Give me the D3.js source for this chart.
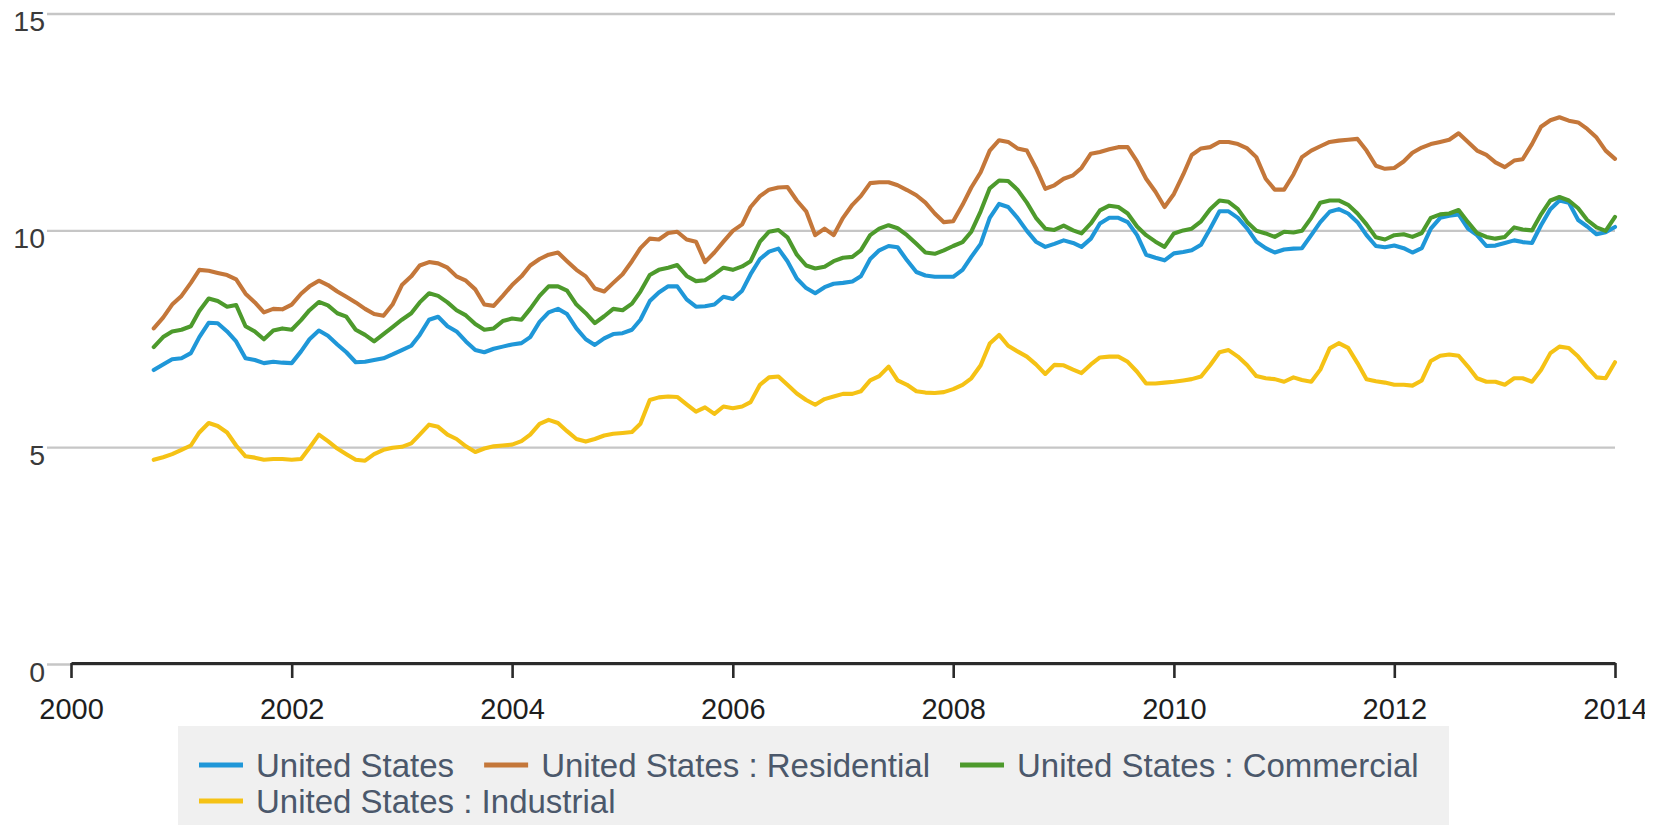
<!DOCTYPE html>
<html><head><meta charset="utf-8">
<script src="https://cdn.jsdelivr.net/npm/d3@7"></script>
<style>
html,body{margin:0;padding:0;background:#fff;overflow:hidden}
svg{display:block}
text{font-family:"Liberation Sans",Arial,Helvetica,sans-serif}
</style></head><body>
<svg id="chart" width="1658" height="825"></svg>
<script>
// ---- data (monthly average retail price of electricity, cents/kWh) ----
const firstMonth = new Date(2000, 9, 1);   // Oct 2000
const lastMonth = new Date(2014, 0, 1);    // Jan 2014
const seriesNames = ["United States", "United States : Residential", "United States : Commercial", "United States : Industrial"];
const seriesColors = ["#1f97d8", "#c4773a", "#4d9a2c", "#f5c215"];
const xTickYears = [2000, 2002, 2004, 2006, 2008, 2010, 2012, 2014];
const yTickValues = [0, 5, 10, 15];

const usTotal = [
 6.79,6.92,7.04,7.06,7.18,7.55,7.88,7.87,7.68,7.45,
 7.06,7.02,6.95,6.98,6.96,6.95,7.22,7.5,7.7,7.58,
 7.38,7.2,6.97,6.98,7.02,7.06,7.15,7.25,7.35,7.6,
 7.95,8.02,7.8,7.68,7.45,7.25,7.2,7.28,7.33,7.38,
 7.41,7.55,7.9,8.12,8.2,8.08,7.75,7.5,7.37,7.52,
 7.62,7.64,7.72,7.95,8.38,8.58,8.72,8.72,8.42,8.25,
 8.26,8.3,8.48,8.43,8.62,9.0,9.35,9.52,9.59,9.3,
 8.9,8.68,8.56,8.7,8.78,8.8,8.83,8.95,9.35,9.55,
 9.65,9.62,9.32,9.05,8.97,8.94,8.94,8.94,9.1,9.4,
 9.7,10.3,10.62,10.55,10.3,10.0,9.75,9.63,9.7,9.78,
 9.72,9.63,9.82,10.17,10.3,10.3,10.2,9.9,9.45,9.38,
 9.32,9.48,9.51,9.55,9.68,10.05,10.45,10.45,10.3,10.05,
 9.75,9.6,9.5,9.57,9.59,9.6,9.9,10.2,10.44,10.5,
 10.4,10.2,9.9,9.65,9.62,9.66,9.6,9.5,9.6,10.05,
 10.3,10.35,10.38,10.05,9.9,9.65,9.66,9.72,9.78,9.74,
 9.72,10.13,10.5,10.7,10.65,10.25,10.1,9.92,9.97,10.09
];
const residential = [
 7.75,8.0,8.3,8.5,8.8,9.1,9.08,9.03,8.98,8.88,
 8.55,8.35,8.12,8.2,8.19,8.3,8.55,8.72,8.85,8.75,
 8.6,8.48,8.35,8.2,8.08,8.04,8.3,8.75,8.95,9.2,
 9.28,9.25,9.15,8.95,8.85,8.65,8.3,8.27,8.5,8.75,
 8.95,9.2,9.35,9.45,9.5,9.3,9.1,8.95,8.67,8.6,
 8.8,9.0,9.3,9.6,9.82,9.8,9.95,9.98,9.8,9.75,
 9.28,9.5,9.75,10.0,10.15,10.55,10.8,10.95,11.0,11.01,
 10.7,10.45,9.9,10.05,9.9,10.3,10.6,10.8,11.1,11.12,
 11.12,11.05,10.94,10.82,10.65,10.4,10.2,10.22,10.6,11.0,
 11.35,11.85,12.09,12.05,11.9,11.85,11.45,10.97,11.05,11.2,
 11.28,11.45,11.78,11.82,11.88,11.93,11.93,11.6,11.2,10.9,
 10.55,10.85,11.3,11.75,11.9,11.93,12.05,12.05,12.0,11.9,
 11.7,11.2,10.95,10.95,11.3,11.7,11.85,11.95,12.05,12.08,
 12.1,12.12,11.85,11.5,11.43,11.45,11.6,11.8,11.92,12.0,
 12.05,12.1,12.25,12.05,11.85,11.75,11.58,11.47,11.62,11.65,
 12.0,12.4,12.55,12.62,12.54,12.5,12.35,12.15,11.85,11.66
];
const commercial = [
 7.32,7.55,7.68,7.72,7.8,8.15,8.44,8.38,8.25,8.29,
 7.8,7.68,7.5,7.7,7.75,7.72,7.94,8.17,8.36,8.28,
 8.1,8.02,7.72,7.6,7.45,7.62,7.78,7.95,8.1,8.35,
 8.56,8.5,8.35,8.17,8.05,7.85,7.72,7.75,7.92,7.98,
 7.95,8.2,8.5,8.72,8.72,8.62,8.3,8.1,7.87,8.03,
 8.2,8.17,8.32,8.6,8.98,9.1,9.15,9.21,8.96,8.84,
 8.86,9.0,9.15,9.1,9.18,9.3,9.75,9.98,10.02,9.85,
 9.45,9.2,9.13,9.17,9.3,9.38,9.4,9.55,9.9,10.05,
 10.13,10.06,9.9,9.7,9.5,9.47,9.55,9.65,9.74,9.98,
 10.45,10.98,11.16,11.15,10.95,10.65,10.3,10.05,10.02,10.12,
 10.01,9.94,10.17,10.47,10.58,10.55,10.4,10.1,9.9,9.75,
 9.63,9.94,10.01,10.05,10.22,10.5,10.7,10.67,10.5,10.2,
 10.0,9.94,9.86,9.98,9.96,10.0,10.3,10.65,10.7,10.7,
 10.6,10.4,10.15,9.85,9.8,9.9,9.92,9.86,9.95,10.3,
 10.38,10.4,10.48,10.2,9.95,9.86,9.82,9.86,10.08,10.03,
 10.01,10.38,10.7,10.78,10.7,10.52,10.25,10.08,10.0,10.32
];
const industrial = [
 4.72,4.78,4.85,4.95,5.05,5.35,5.57,5.5,5.35,5.05,
 4.8,4.77,4.72,4.74,4.74,4.72,4.74,5.0,5.3,5.15,
 4.98,4.85,4.72,4.7,4.85,4.95,5.0,5.02,5.1,5.3,
 5.53,5.48,5.3,5.2,5.03,4.9,4.98,5.03,5.05,5.07,
 5.15,5.3,5.55,5.64,5.57,5.38,5.2,5.14,5.2,5.28,
 5.32,5.34,5.36,5.55,6.1,6.16,6.18,6.17,6.0,5.83,
 5.93,5.78,5.95,5.91,5.95,6.05,6.45,6.62,6.64,6.45,
 6.25,6.1,5.99,6.12,6.18,6.24,6.24,6.3,6.55,6.65,
 6.87,6.55,6.45,6.3,6.27,6.26,6.28,6.35,6.45,6.6,
 6.9,7.4,7.6,7.35,7.22,7.1,6.92,6.7,6.91,6.9,
 6.8,6.72,6.92,7.08,7.1,7.1,6.98,6.75,6.48,6.48,
 6.5,6.52,6.55,6.58,6.64,6.9,7.2,7.25,7.1,6.9,
 6.65,6.6,6.58,6.52,6.62,6.56,6.52,6.8,7.29,7.41,
 7.3,6.95,6.58,6.53,6.5,6.45,6.45,6.43,6.55,7.0,
 7.12,7.15,7.12,6.87,6.6,6.52,6.52,6.45,6.6,6.6,
 6.52,6.79,7.18,7.33,7.3,7.1,6.85,6.62,6.6,6.97
];
const seriesValues = [usTotal, residential, commercial, industrial];

// ---- chart ----
const months = d3.timeMonth.range(firstMonth, d3.timeMonth.offset(lastMonth, 1));
const svg = d3.select("#chart");
svg.append("defs").append("clipPath").attr("id", "pageclip")
  .append("rect").attr("x", 0).attr("y", 0).attr("width", 1645).attr("height", 825);
const root = svg.append("g").attr("clip-path", "url(#pageclip)");

const x = d3.scaleTime().domain([new Date(2000, 0, 1), new Date(2014, 0, 1)]).range([71, 1615]);
const y = d3.scaleLinear().domain([0, 15]).range([664.5, 14]);

// gridlines
root.append("g").selectAll("line").data(yTickValues).join("line")
  .attr("x1", 47).attr("x2", 1615)
  .attr("y1", d => y(d)).attr("y2", d => y(d))
  .attr("stroke", "#c6c6c6").attr("stroke-width", 2.4);

// y labels
root.append("g").selectAll("text").data(yTickValues).join("text")
  .attr("x", 45).attr("y", d => y(d) + 17)
  .attr("text-anchor", "end")
  .attr("font-size", 28.5).attr("fill", "#3a3a3a")
  .text(d => d3.format("d")(d));

// x axis
const xAxis = d3.axisBottom(x)
  .tickValues(xTickYears.map(yr => new Date(yr, 0, 1)))
  .tickFormat(d3.timeFormat("%Y"))
  .tickSizeInner(15).tickSizeOuter(0);
const gx = root.append("g").attr("transform", "translate(0,663)").call(xAxis);
gx.select(".domain").attr("stroke", "#2a2a2a").attr("stroke-width", 3);
gx.selectAll(".tick line").attr("stroke", "#2a2a2a").attr("stroke-width", 2.6);
gx.selectAll(".tick text")
  .attr("y", 56).attr("dy", 0)
  .attr("font-size", 29).attr("fill", "#1e1e1e")
  .attr("font-family", "'Liberation Sans', Arial, sans-serif");

// lines
const line = d3.line()
  .x((d, i) => x(months[i]))
  .y(d => y(d))
  .curve(d3.curveLinear);
root.append("g").selectAll("path").data(seriesValues).join("path")
  .attr("d", d => line(d))
  .attr("fill", "none")
  .attr("stroke", (d, i) => seriesColors[i])
  .attr("stroke-width", 4.1)
  .attr("stroke-linejoin", "round")
  .attr("stroke-linecap", "round");

// legend
const legend = root.append("g");
legend.append("rect")
  .attr("x", 178).attr("y", 726).attr("width", 1271).attr("height", 110)
  .attr("fill", "#f0f0f0");
const legLeft = 199, legRight = 1449, rowY = [765, 801];
let lx = legLeft, row = 0;
seriesNames.forEach((name, i) => {
  const g = legend.append("g");
  const t = g.append("text").attr("font-size", 33).attr("fill", "#4b586b").text(name);
  const w = t.node().getComputedTextLength();
  if (lx + 56 + w > legRight && lx > legLeft) { row += 1; lx = legLeft; }
  const cy = rowY[row];
  g.append("line").attr("x1", lx).attr("x2", lx + 44).attr("y1", cy).attr("y2", cy)
    .attr("stroke", seriesColors[i]).attr("stroke-width", 5);
  t.attr("x", lx + 57).attr("y", cy + 12);
  lx = lx + 57 + w + 30;
});
</script>
</body></html>
